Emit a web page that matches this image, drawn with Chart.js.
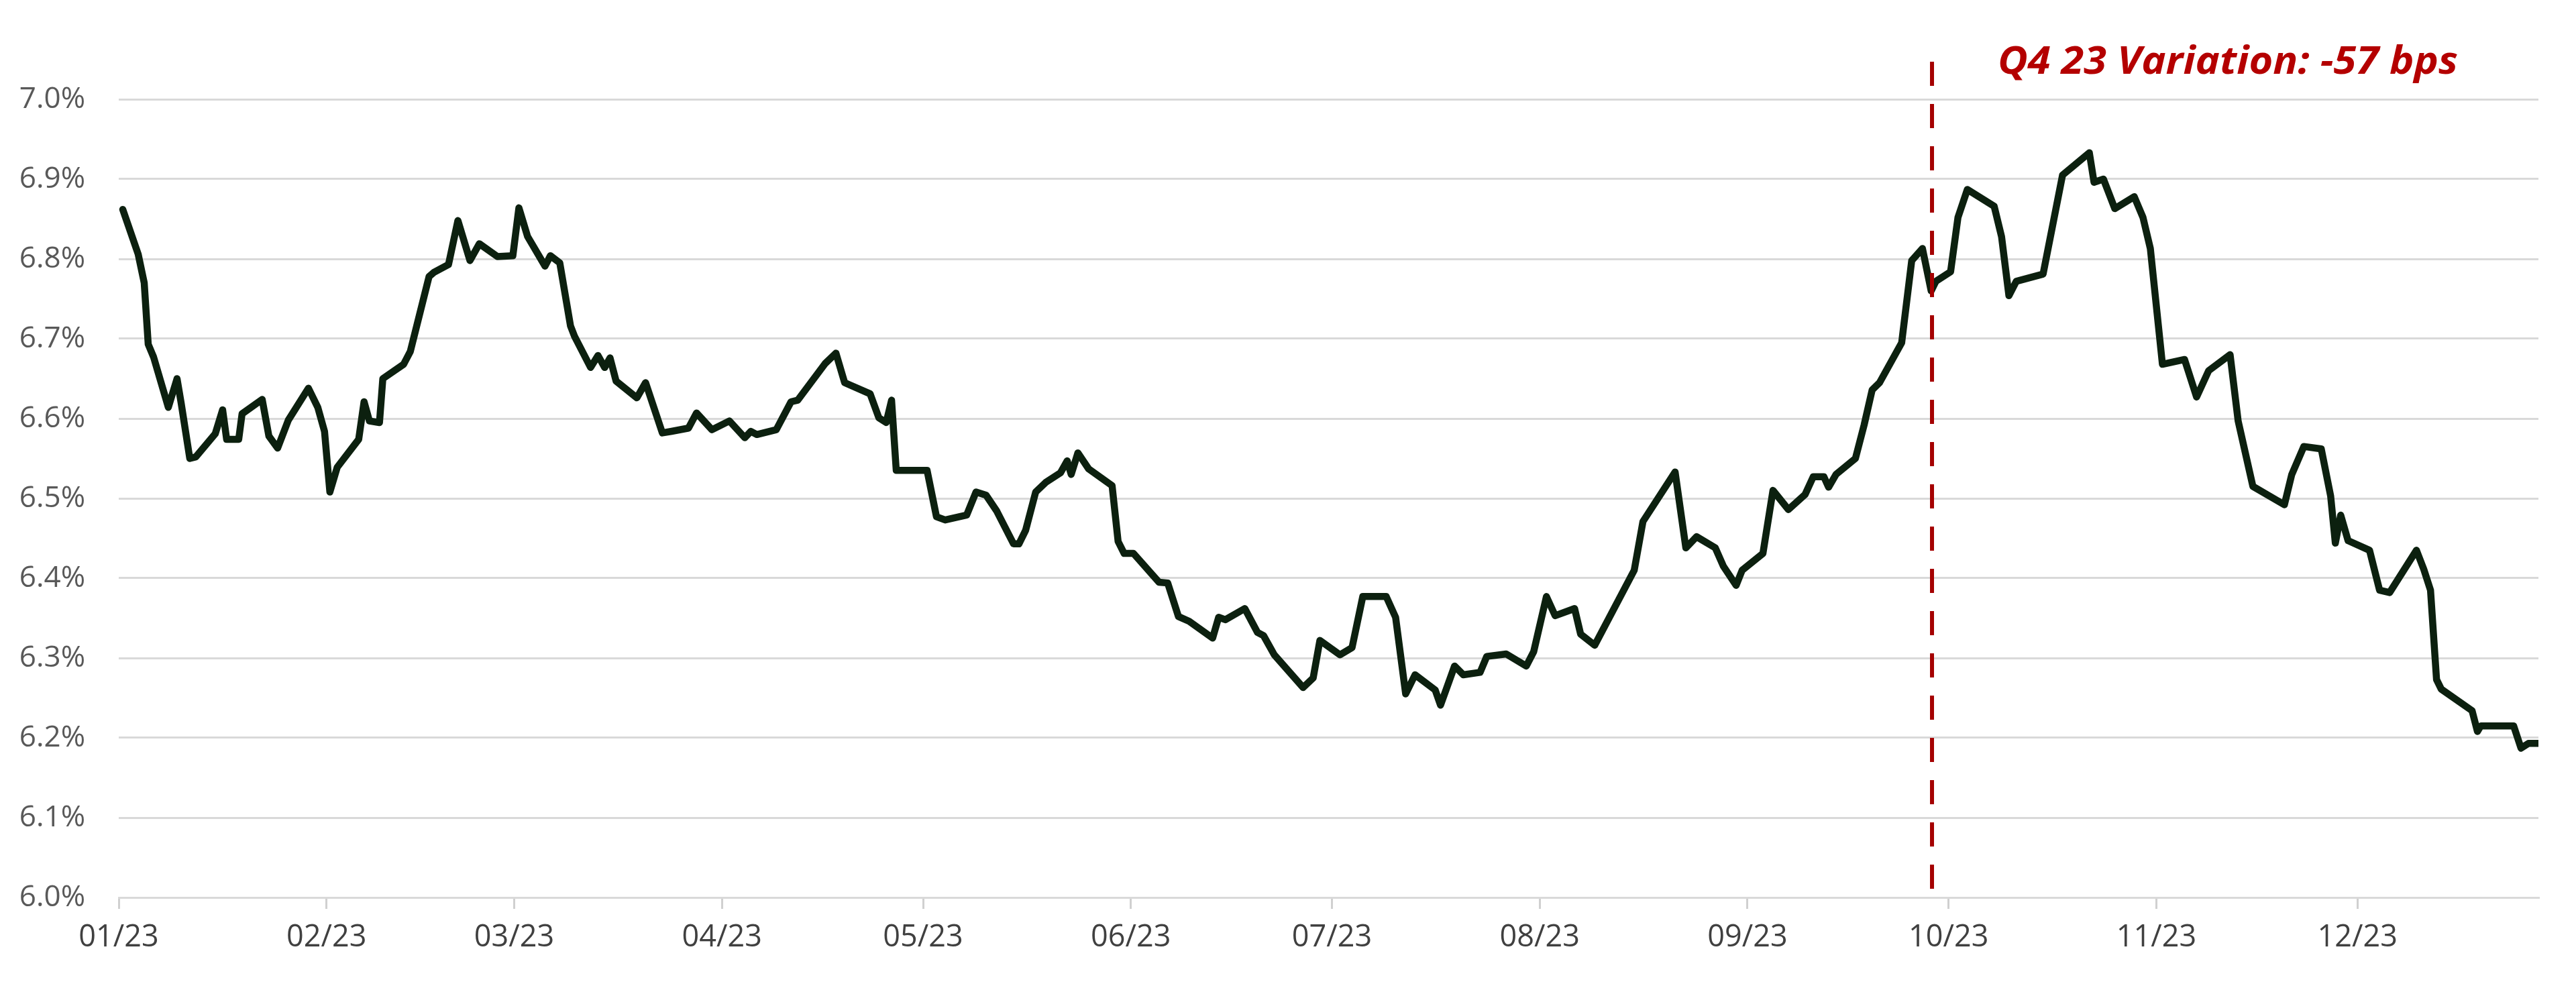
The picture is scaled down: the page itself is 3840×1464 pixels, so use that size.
<!DOCTYPE html>
<html>
<head>
<meta charset="utf-8">
<script src="https://cdn.jsdelivr.net/npm/chart.js@4.4.1/dist/chart.umd.min.js"></script>
<style>
html,body{margin:0;padding:0;background:#ffffff;}
canvas{display:block;}
</style>
</head>
<body>
<canvas id="c" width="3840" height="1464" style="width:3840px;height:1464px"></canvas>
<script>
// x position of each point: day of 2023 (0 = 1 Jan)
const dayOfYear = [
  1.6, 3.9, 4.8, 5.4, 6.2, 8.4, 9.7, 10.3, 11.6, 12.5, 15.4, 16.5, 17.1, 18.9, 19.4, 22.4, 23.4, 24.7, 26.3, 29.3,
  30.7, 31.7, 32.5, 33.6, 36.8, 37.6, 38.4, 39.9, 40.4, 43.5, 44.5, 47.3, 48.0, 50.2, 51.6, 53.4, 54.8, 57.5, 59.8, 60.7,
  62.0, 64.6, 65.4, 66.8, 68.4, 69.0, 71.4, 72.5, 73.5, 74.3, 75.2, 78.3, 79.6, 82.1, 83.5, 86.0, 87.2, 89.5, 92.1, 94.4,
  95.3, 96.2, 99.1, 101.3, 102.3, 106.4, 108.0, 109.3, 113.1, 114.4, 115.5, 116.3, 117.0, 121.6, 123.0, 124.3, 127.5, 128.9, 130.4, 132.0,
  134.5, 135.3, 136.3, 137.8, 139.3, 141.5, 142.5, 143.1, 144.1, 145.7, 149.2, 150.1, 151.0, 152.4, 156.2, 157.5, 159.1, 160.7, 164.2, 165.1,
  166.1, 169.0, 170.9, 171.8, 173.4, 177.7, 179.2, 180.2, 183.2, 185.0, 186.6, 190.1, 191.5, 193.0, 194.4, 197.4, 198.2, 200.3, 201.6, 204.1,
  205.1, 208.0, 211.0, 212.1, 214.0, 215.3, 218.2, 219.1, 221.2, 227.1, 228.4, 233.2, 234.8, 236.4, 239.2, 240.4, 242.3, 243.2, 246.3, 247.8,
  250.1, 252.6, 253.8, 255.4, 256.1, 257.2, 260.1, 261.4, 262.6, 263.7, 267.0, 268.5, 270.1, 271.4, 272.1, 274.3, 275.4, 276.8, 280.8, 281.9,
  283.0, 284.1, 288.1, 291.0, 295.0, 295.7, 297.1, 298.8, 301.7, 303.0, 304.1, 305.9, 309.2, 311.0, 312.8, 316.0, 317.2, 319.4, 324.1, 325.2,
  327.0, 329.6, 331.0, 331.7, 332.5, 333.6, 336.8, 338.3, 339.8, 343.8, 344.9, 345.9, 346.8, 347.5, 352.1, 352.9, 353.4, 358.3, 359.4, 360.5,
  362.0
];
// yield in percent
const yieldPct = [
  6.862, 6.806, 6.770, 6.693, 6.677, 6.614, 6.650, 6.620, 6.550, 6.552, 6.581, 6.611, 6.574, 6.574, 6.606, 6.624, 6.578, 6.563, 6.598, 6.638,
  6.614, 6.584, 6.508, 6.539, 6.574, 6.621, 6.597, 6.595, 6.650, 6.668, 6.684, 6.778, 6.783, 6.793, 6.848, 6.798, 6.819, 6.803, 6.804, 6.864,
  6.828, 6.791, 6.804, 6.795, 6.716, 6.703, 6.664, 6.679, 6.664, 6.676, 6.647, 6.626, 6.645, 6.582, 6.584, 6.588, 6.607, 6.586, 6.597, 6.576,
  6.584, 6.580, 6.586, 6.621, 6.623, 6.669, 6.682, 6.645, 6.631, 6.601, 6.595, 6.623, 6.535, 6.535, 6.477, 6.473, 6.479, 6.508, 6.504, 6.484,
  6.443, 6.443, 6.460, 6.508, 6.520, 6.532, 6.547, 6.530, 6.557, 6.537, 6.516, 6.446, 6.431, 6.431, 6.395, 6.394, 6.352, 6.346, 6.325, 6.351,
  6.348, 6.362, 6.332, 6.328, 6.304, 6.263, 6.275, 6.322, 6.304, 6.313, 6.377, 6.377, 6.351, 6.255, 6.279, 6.260, 6.241, 6.290, 6.279, 6.282,
  6.302, 6.305, 6.290, 6.308, 6.377, 6.353, 6.362, 6.330, 6.316, 6.410, 6.471, 6.533, 6.438, 6.452, 6.438, 6.415, 6.391, 6.410, 6.431, 6.510,
  6.486, 6.505, 6.527, 6.527, 6.514, 6.530, 6.550, 6.592, 6.636, 6.645, 6.695, 6.798, 6.813, 6.760, 6.772, 6.784, 6.852, 6.887, 6.866, 6.828,
  6.754, 6.772, 6.781, 6.905, 6.933, 6.896, 6.900, 6.863, 6.878, 6.852, 6.813, 6.668, 6.674, 6.627, 6.660, 6.680, 6.597, 6.515, 6.492, 6.530,
  6.565, 6.562, 6.503, 6.444, 6.479, 6.447, 6.435, 6.385, 6.382, 6.435, 6.411, 6.385, 6.273, 6.261, 6.234, 6.208, 6.215, 6.215, 6.187, 6.193,
  6.193
];
const xTickDays = [1, 32, 60, 91, 121, 152, 182, 213, 244, 274, 305, 335];
const xTickLabels = ['01/23', '02/23', '03/23', '04/23', '05/23', '06/23', '07/23', '08/23', '09/23', '10/23', '11/23', '12/23'];
const yTickValues = [6.0, 6.1, 6.2, 6.3, 6.4, 6.5, 6.6, 6.7, 6.8, 6.9, 7.0];
const yTickLabels = ['6.0%', '6.1%', '6.2%', '6.3%', '6.4%', '6.5%', '6.6%', '6.7%', '6.8%', '6.9%', '7.0%'];
const quarterEndDay = 271.5;
const annotationText = 'Q4 23 Variation: -57 bps';

const points = dayOfYear.map((d, i) => ({ x: d, y: yieldPct[i] }));

const quarterLine = {
  id: 'quarterLine',
  afterDatasetsDraw(chart) {
    const ctx = chart.ctx;
    const xs = chart.scales.x;
    const area = chart.chartArea;
    const x = Math.round(xs.getPixelForValue(quarterEndDay));
    ctx.save();
    ctx.strokeStyle = '#a50000';
    ctx.lineWidth = 6;
    ctx.setLineDash([36, 27]);
    ctx.beginPath();
    ctx.moveTo(x, area.top - 56);
    ctx.lineTo(x, area.bottom);
    ctx.stroke();
    ctx.setLineDash([]);
    ctx.fillStyle = '#b40000';
    ctx.font = 'italic 700 58px "Open Sans"';
    ctx.textBaseline = 'alphabetic';
    ctx.textAlign = 'left';
    const w = ctx.measureText(annotationText).width;
    const target = 686;
    ctx.translate(x + 98, area.top - 38);
    ctx.scale(target / w, 1);
    ctx.fillText(annotationText, 0, 0);
    ctx.restore();
  }
};

new Chart(document.getElementById('c'), {
  type: 'line',
  data: {
    datasets: [{
      data: points,
      borderColor: '#0c200f',
      borderWidth: 10.5,
      borderJoinStyle: 'round',
      borderCapStyle: 'round',
      pointRadius: 0,
      tension: 0,
      fill: false
    }]
  },
  options: {
    responsive: false,
    animation: false,
    devicePixelRatio: 1,
    layout: { padding: { top: 148, right: 56, bottom: 0, left: 0 } },
    plugins: { legend: { display: false }, tooltip: { enabled: false }, title: { display: false } },
    scales: {
      x: {
        type: 'linear',
        min: 1,
        max: 362,
        afterFit(scale) { scale.height = 126; },
        afterBuildTicks(scale) { scale.ticks = xTickDays.map(v => ({ value: v })); },
        ticks: {
          autoSkip: false,
          maxRotation: 0,
          minRotation: 0,
          padding: 16,
          color: '#404040',
          font: { family: 'Open Sans', size: 45 },
          callback: (v, i) => xTickLabels[i]
        },
        grid: { drawOnChartArea: false, drawTicks: true, tickLength: 17, color: '#d0d0d0', lineWidth: 3 },
        border: { display: true, color: '#d9d9d9', width: 3 }
      },
      y: {
        min: 6.0,
        max: 7.0,
        afterFit(scale) { scale.width = 177; },
        afterBuildTicks(scale) { scale.ticks = yTickValues.map(v => ({ value: v })); },
        ticks: {
          padding: 50,
          color: '#595959',
          font: { family: 'Open Sans', size: 44 },
          callback: (v, i) => yTickLabels[i]
        },
        grid: { drawTicks: false, color: '#d9d9d9', lineWidth: 3 },
        border: { display: false }
      }
    }
  },
  plugins: [quarterLine]
});
</script>
</body>
</html>
